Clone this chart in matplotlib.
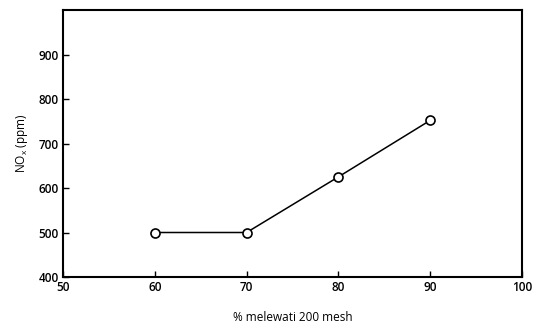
import matplotlib
matplotlib.use("Agg")
import matplotlib.pyplot as plt

# data
mesh_pct = [60, 70, 80, 90]
nox_ppm = [500, 500, 625, 752]

x_ticks = [50, 60, 70, 80, 90, 100]
y_ticks = [400, 500, 600, 700, 800, 900]

plt.rcParams['font.family'] = ['Open Sans', 'DejaVu Sans']
plt.rcParams['font.weight'] = 'semibold'
plt.rcParams['mathtext.default'] = 'regular'

fig = plt.figure(figsize=(5.38, 3.32), dpi=100)
ax = fig.add_axes([63 / 538, 1 - 277 / 332, (522 - 63) / 538, (277 - 10) / 332])

ax.plot(mesh_pct, nox_ppm, color='black', linewidth=1.1, marker='o',
        markersize=6.5, markerfacecolor='white', markeredgecolor='black',
        markeredgewidth=1.2)

ax.set_xlim(50, 100)
ax.set_ylim(400, 1000)
ax.set_xticks(x_ticks)
ax.set_yticks(y_ticks)
ax.tick_params(direction='in', length=4, width=1, labelsize=8.5, pad=3)

for s in ax.spines.values():
    s.set_linewidth(1.5)

ax.set_xlabel('% melewati 200 mesh', fontsize=8.5, labelpad=12)
ax.set_ylabel('NO$_x$ (ppm)', fontsize=8.5, labelpad=6)

fig.savefig('out.png', dpi=100)
